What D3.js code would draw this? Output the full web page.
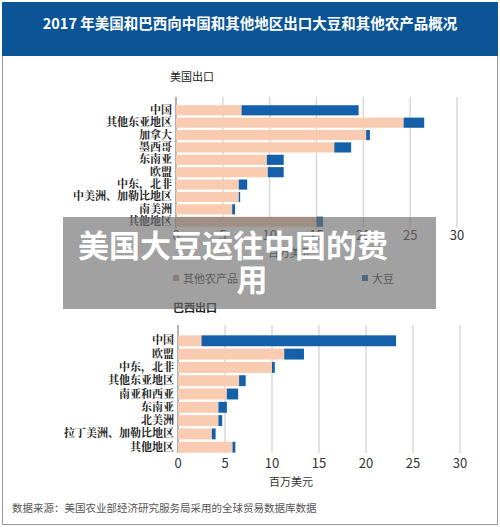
<!DOCTYPE html>
<html lang='zh'>
<head>
<meta charset='UTF-8'/>
<script src='https://cdnjs.cloudflare.com/ajax/libs/d3/7.8.5/d3.min.js'></script>
<style>
  body {margin: 0; background: #fff;}
  text {font-family: 'Noto Sans CJK SC', sans-serif;}
</style>
</head>
<body>
<div class='graph'></div>
<script>
// US exports (million USD)
const usRegions = ['中国', '其他东亚地区', '加拿大', '墨西哥', '东南亚', '欧盟', '中东，北非', '中美洲、加勒比地区', '南美洲', '其他地区'];
const usOther = [7.0, 24.3, 20.3, 16.9, 9.7, 9.8, 6.7, 6.7, 6.0, 15.0];
const usSoy = [12.5, 2.2, 0.4, 1.8, 1.8, 1.7, 0.9, 0.15, 0.3, 0.7];
// Brazil exports
const brRegions = ['中国', '欧盟', '中东，北非', '其他东亚地区', '南亚和西亚', '东南亚', '北美洲', '拉丁美洲、加勒比地区', '其他地区'];
const brOther = [2.5, 11.3, 10.0, 6.5, 5.2, 4.3, 4.3, 3.6, 5.8];
const brSoy = [20.7, 2.1, 0.3, 0.7, 1.2, 0.9, 0.4, 0.4, 0.3];
const ticks = [0, 5, 10, 15, 20, 25, 30];

const W = 500, H = 527;
const ORANGE = '#f9cbb0', BLUE = '#1560aa';

const svg = d3.select('.graph').append('svg').attr('width', W).attr('height', H);

svg.append('rect').attr('x', 2.5).attr('y', 2.5).attr('width', W - 5).attr('height', H - 5)
  .attr('fill', '#fff').attr('stroke', '#999');
svg.append('rect').attr('x', 2).attr('y', 2).attr('width', W - 4).attr('height', 54).attr('fill', '#0b5597');
svg.append('text').text('2017 年美国和巴西向中国和其他地区出口大豆和其他农产品概况')
  .attr('x', 250).attr('y', 29).attr('text-anchor', 'middle').attr('fill', '#fff')
  .style('font-size', '14.5px').style('font-weight', 'bold');

function panel(regions, other, soy, x0, x1, yTop, yBot, rowTop, rowBot, tickY) {
  const x = d3.scaleLinear().domain([0, 30]).range([x0, x1]);
  const y = d3.scaleBand().domain(regions).range([rowTop, rowBot]).paddingInner(0.18).paddingOuter(0.1);
  const g = svg.append('g');
  g.selectAll('.grid').data(ticks).enter().append('line')
    .attr('x1', d => x(d)).attr('x2', d => x(d)).attr('y1', yTop).attr('y2', yBot)
    .attr('stroke', d => d === 0 ? '#999' : '#d8d8d8').attr('stroke-width', 1.5);
  g.selectAll('.o').data(regions).enter().append('rect')
    .attr('x', x(0)).attr('y', d => y(d)).attr('height', y.bandwidth())
    .attr('width', (d, i) => x(other[i]) - x(0)).attr('fill', ORANGE);
  g.selectAll('.s').data(regions).enter().append('rect')
    .attr('x', (d, i) => x(other[i])).attr('y', d => y(d)).attr('height', y.bandwidth())
    .attr('width', (d, i) => x(other[i] + soy[i]) - x(other[i])).attr('fill', BLUE);
  g.append('g').attr('transform', 'translate(' + (x0 - 4) + ',0)')
    .call(d3.axisLeft(y).tickSize(0).tickPadding(0))
    .call(a => a.select('.domain').remove())
    .selectAll('text').style('font-family', "'Noto Serif CJK SC', 'Noto Sans CJK SC', serif")
    .style('font-size', '11px').style('font-weight', 'bold').attr('fill', '#222');
  g.selectAll('.t').data(ticks).enter().append('text')
    .attr('x', d => x(d)).attr('y', tickY).attr('text-anchor', 'middle')
    .style('font-size', '13px').attr('fill', '#333').text(d => d);
  return x;
}

svg.append('text').text('美国出口').attr('x', 170).attr('y', 81).style('font-size', '11px').attr('fill', '#222');
panel(usRegions, usOther, usSoy, 176, 457, 97, 228, 104, 228, 240);
svg.append('text').text('百万美元').attr('x', 290).attr('y', 257).attr('text-anchor', 'middle').style('font-size', '11px').attr('fill', '#333');

// legend
svg.append('rect').attr('x', 173).attr('y', 275).attr('width', 6).attr('height', 6).attr('fill', '#c4957a');
svg.append('text').text('其他农产品').attr('x', 183).attr('y', 283).style('font-size', '11px').attr('fill', '#333');
svg.append('rect').attr('x', 362).attr('y', 275).attr('width', 6).attr('height', 6).attr('fill', BLUE);
svg.append('text').text('大豆').attr('x', 372).attr('y', 283).style('font-size', '11px').attr('fill', '#333');

svg.append('text').text('巴西出口').attr('x', 173).attr('y', 312).style('font-size', '11px').style('font-weight', 'bold').attr('fill', '#222');
panel(brRegions, brOther, brSoy, 178, 460, 325, 453, 334, 454, 468);
svg.append('text').text('百万美元').attr('x', 291).attr('y', 486).attr('text-anchor', 'middle').style('font-size', '11px').attr('fill', '#333');
svg.append('text').text('数据来源：美国农业部经济研究服务局采用的全球贸易数据库数据')
  .attr('x', 12).attr('y', 512).style('font-size', '10.5px').attr('fill', '#555');

// overlay caption
svg.append('rect').attr('x', 63).attr('y', 217).attr('width', 373).attr('height', 92)
  .attr('fill', '#6e6e6e').attr('opacity', 0.65);
svg.append('text').text('美国大豆运往中国的费').attr('x', 78).attr('y', 257)
  .style('font-size', '31px').style('font-weight', 'bold').attr('fill', '#fff');
svg.append('text').text('用').attr('x', 252).attr('y', 291).attr('text-anchor', 'middle')
  .style('font-size', '31px').style('font-weight', 'bold').attr('fill', '#fff');
</script>
</body>
</html>
